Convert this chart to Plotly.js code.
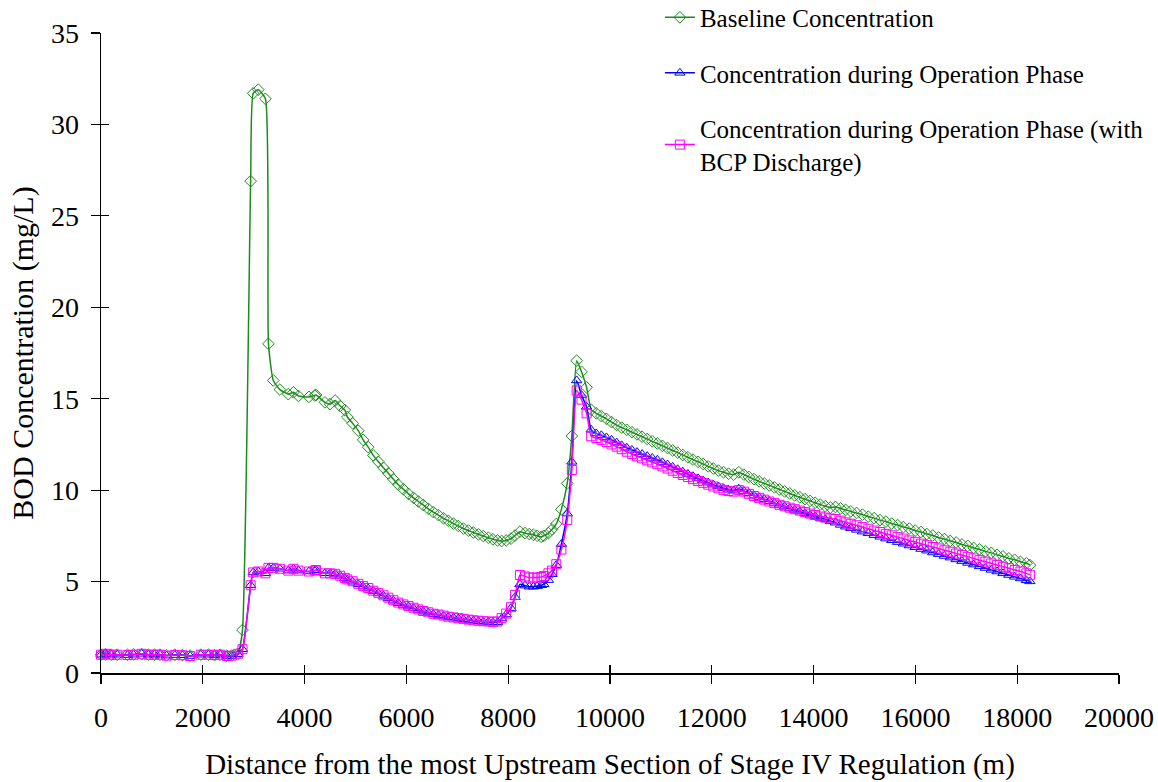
<!DOCTYPE html>
<html>
<head>
<meta charset="utf-8">
<script src="https://cdn.plot.ly/plotly-3.0.1.min.js"></script>
<style>html,body{margin:0;padding:0;background:#fff;}#chart{width:1158px;height:782px;}</style>
</head>
<body>
<div id="chart"></div>
<script>
// Distance from the most upstream section (m)
const distance = [
  0,90,200,320,520,640,800,930,1050,1160,1290,1450,1600,1750,1960,2110,2230,2340,2470,2570,2690,2780,
  2940,2990,3090,3230,3290,3385,3515,3680,3780,3880,4085,4200,4225,4400,4500,4600,4700,4790,4840,4945,
  5055,5150,5250,5350,5450,5550,5645,5745,5840,5940,6040,6140,6235,6330,6430,6530,6630,6730,6825,6925,
  7020,7120,7220,7315,7415,7510,7610,7700,7790,7870,7960,8055,8135,
  8230,8330,8415,8495,8570,8650,8700,8790,8860,8945,9045,9160,9250,9345,9440,9540,9630,
  9730,9830,9930,10030,10130,10230,10330,10430,10530,10630,10730,10830,10930,11030,11130,11230,11330,
  11430,11530,11630,11730,11830,11930,12030,12130,12230,12330,12430,12530,12630,12730,12830,12930,13030,
  13130,13230,13330,13430,13530,13630,13730,13830,13930,14030,14130,14230,14330,14430,14530,14630,14730,
  14845,14960,15075,15190,15305,15420,15535,15650,15765,15880,15995,16110,16225,16340,16455,16570,16685,
  16800,16915,17030,17145,17260,17375,17490,17605,17720,17835,17950,18065,18180,18250
];

// Baseline Concentration (mg/L)
const baseline = [
  1.0,1.02,1.0,1.0,1.0,1.02,1.03,1.0,1.0,1.0,0.97,1.0,0.98,0.95,1.0,1.0,0.98,1.0,0.95,0.95,1.05,2.35,
  26.9,31.7,31.9,31.4,18.0,16.0,15.5,15.25,15.35,15.15,15.1,15.18,15.2,14.8,14.7,14.9,14.6,14.38,14.0,13.65,
  13.25,12.75,12.35,11.9,11.55,11.22,10.92,10.6,10.3,10.05,9.8,9.58,9.38,9.19,8.98,8.8,8.63,8.46,8.32,8.17,
  8.04,7.9,7.79,7.68,7.58,7.49,7.4,7.31,7.25,7.22,7.25,7.35,7.52,
  7.73,7.65,7.6,7.56,7.5,7.45,7.5,7.65,7.85,8.15,8.95,10.37,12.96,17.08,16.47,15.62,14.4,
  14.2,14.05,13.9,13.72,13.56,13.42,13.3,13.17,13.05,12.92,12.8,12.67,12.55,12.42,12.3,12.17,12.05,
  11.92,11.8,11.67,11.55,11.43,11.3,11.18,11.07,10.98,10.9,10.85,10.98,10.85,10.72,10.6,10.48,10.37,
  10.26,10.15,10.04,9.93,9.82,9.71,9.61,9.51,9.41,9.31,9.21,9.12,9.05,9.08,9.0,8.92,8.84,
  8.75,8.66,8.55,8.47,8.36,8.28,8.17,8.09,7.98,7.9,7.79,7.71,7.6,7.52,7.41,7.33,7.22,
  7.14,7.03,6.95,6.84,6.76,6.65,6.57,6.46,6.38,6.27,6.19,6.08,6.0,5.9
];

// Concentration during Operation Phase (mg/L)
const operation = [
  1.0,1.05,1.0,1.0,0.98,1.0,1.05,1.0,1.0,1.0,0.95,0.98,0.97,0.93,1.0,1.0,0.98,1.0,0.93,0.93,1.02,1.3,
  4.8,5.5,5.55,5.45,5.75,5.75,5.7,5.6,5.7,5.6,5.55,5.6,5.63,5.45,5.45,5.42,5.32,5.17,5.1,4.99,
  4.85,4.72,4.62,4.48,4.35,4.22,4.08,3.95,3.82,3.72,3.63,3.54,3.45,3.36,3.3,3.21,3.17,3.12,3.06,3.02,
  2.98,2.94,2.9,2.86,2.83,2.8,2.8,2.76,2.78,2.98,3.2,3.55,4.15,
  4.85,4.78,4.72,4.72,4.75,4.8,4.85,5.08,5.4,5.9,7.05,8.72,11.55,16.0,15.2,14.56,13.3,
  13.1,13.0,12.88,12.75,12.6,12.45,12.32,12.2,12.08,11.97,11.86,11.76,11.66,11.52,11.4,11.27,11.14,
  11.01,10.88,10.76,10.64,10.52,10.41,10.3,10.2,10.1,10.02,9.97,10.08,9.95,9.83,9.7,9.6,9.5,
  9.4,9.3,9.2,9.1,9.0,8.92,8.83,8.74,8.65,8.56,8.48,8.4,8.3,8.22,8.1,8.0,7.92,
  7.83,7.73,7.64,7.54,7.45,7.35,7.26,7.16,7.07,6.97,6.88,6.78,6.69,6.59,6.5,6.4,6.31,
  6.21,6.12,6.02,5.93,5.83,5.74,5.64,5.55,5.45,5.36,5.26,5.17,5.07,5.01
];

// Concentration during Operation Phase (with BCP Discharge) (mg/L)
const operationBCP = [
  1.0,1.05,1.0,1.0,0.98,1.0,1.05,1.0,1.0,1.0,0.95,0.98,0.97,0.93,1.0,1.0,0.98,1.0,0.93,0.95,1.05,1.3,
  4.8,5.5,5.55,5.45,5.75,5.75,5.7,5.6,5.7,5.6,5.55,5.6,5.63,5.45,5.45,5.42,5.32,5.2,5.12,5.02,
  4.88,4.75,4.65,4.5,4.38,4.25,4.12,3.98,3.85,3.75,3.66,3.57,3.48,3.39,3.32,3.24,3.2,3.14,3.08,3.04,
  3.0,2.96,2.92,2.88,2.86,2.83,2.82,2.8,2.82,3.0,3.25,3.6,4.27,
  5.36,5.28,5.22,5.22,5.22,5.25,5.3,5.45,5.6,5.95,6.75,8.37,11.1,15.45,14.95,14.2,12.95,
  12.85,12.75,12.63,12.5,12.38,12.24,12.1,11.97,11.85,11.74,11.63,11.52,11.42,11.3,11.18,11.06,10.94,
  10.83,10.72,10.6,10.5,10.4,10.3,10.2,10.1,10.0,9.95,9.92,10.0,9.92,9.8,9.68,9.58,9.48,
  9.38,9.29,9.2,9.12,9.04,8.96,8.88,8.8,8.72,8.64,8.56,8.5,8.45,8.42,8.33,8.24,8.16,
  8.08,7.98,7.89,7.79,7.71,7.61,7.53,7.43,7.35,7.25,7.17,7.07,6.99,6.89,6.81,6.71,6.63,
  6.53,6.45,6.35,6.27,6.17,6.09,5.99,5.91,5.81,5.73,5.63,5.55,5.45,5.37
];

const seriesNames = [
  'Baseline Concentration',
  'Concentration during Operation Phase',
  'Concentration during Operation Phase (with<br>BCP Discharge)'
];
const xTitle = 'Distance from the most Upstream Section of Stage IV Regulation (m)';
const yTitle = 'BOD Concentration (mg/L)';

const FONT = 'Liberation Serif, Times New Roman, serif';

function mk(y, name, color, symbol, grp) {
  return {
    x: distance, y: y, name: name, type: 'scatter', mode: 'lines+markers',
    legendgroup: grp, cliponaxis: false,
    line: {color: color, width: 1.5, shape: 'spline', smoothing: 0.5},
    marker: {symbol: symbol, size: 9, color: color, line: {color: color, width: 1}}
  };
}

const traces = [
  mk(baseline, seriesNames[0], '#1a8c1a', 'diamond-open', 'a'),
  mk(operation, seriesNames[1], '#0000ff', 'triangle-up-open', 'b'),
  mk(operationBCP, seriesNames[2], '#ff00ff', 'square-open', 'c'),
  {x: [], y: [], xaxis: 'x2', yaxis: 'y2', showlegend: false, hoverinfo: 'skip', type: 'scatter'}
];

const axBase = {
  showgrid: false, zeroline: false, showline: true, linecolor: '#000', linewidth: 1.5,
  ticks: 'outside', ticklen: 9, tickwidth: 1.2, tickcolor: '#000',
  tickformat: 'd', exponentformat: 'none', separatethousands: false,
  tickfont: {family: FONT, size: 28, color: '#000'}
};

const layout = {
  width: 1158, height: 782,
  margin: {l: 101, r: 39, t: 33, b: 109, autoexpand: false},
  paper_bgcolor: '#fff', plot_bgcolor: '#fff',
  font: {family: FONT, color: '#000'},
  showlegend: true,
  legend: {
    x: 0.549, y: 1.06, xanchor: 'left', yanchor: 'top',
    bgcolor: 'rgba(0,0,0,0)', traceorder: 'grouped', tracegroupgap: 20,
    font: {family: FONT, size: 25, color: '#000'}
  },
  xaxis: Object.assign({}, axBase, {
    range: [0, 20000], tick0: 0, dtick: 2000, ticklabelstandoff: 10,
    title: {text: xTitle, font: {family: FONT, size: 29, color: '#000'}, standoff: 21}
  }),
  yaxis: Object.assign({}, axBase, {
    range: [0, 35], tick0: 0, dtick: 5, ticklabelstandoff: 6,
    title: {text: yTitle, font: {family: FONT, size: 30, color: '#000'}, standoff: 8}
  }),
  xaxis2: {overlaying: 'x', anchor: 'y2', range: [0, 20000], tick0: 0, dtick: 2000,
    showgrid: false, zeroline: false, showline: false, showticklabels: false,
    ticks: 'inside', ticklen: 8, tickwidth: 1.2, tickcolor: '#000', side: 'bottom'},
  yaxis2: {overlaying: 'y', anchor: 'x2', range: [0, 35], tick0: 0, dtick: 5,
    showgrid: false, zeroline: false, showline: false, showticklabels: false,
    ticks: 'inside', ticklen: 8, tickwidth: 1.2, tickcolor: '#000', side: 'left'}
};

Plotly.newPlot('chart', traces, layout, {displayModeBar: false, staticPlot: true});
</script>
</body>
</html>
